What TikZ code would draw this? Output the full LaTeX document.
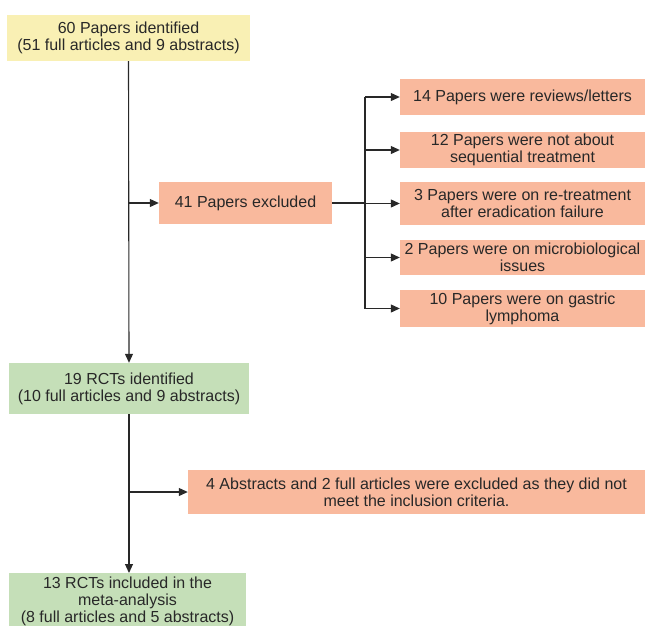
\documentclass[tikz,border=0pt]{standalone}
\usepackage{fontspec}
\setmainfont{Liberation Sans}
\usetikzlibrary{arrows.meta}
\definecolor{boxyellow}{RGB}{249,240,180}
\definecolor{boxsalmon}{RGB}{249,185,157}
\definecolor{boxgreen}{RGB}{197,223,184}
\definecolor{linecol}{RGB}{40,40,40}
\definecolor{txtcol}{RGB}{40,40,40}
\tikzset{
  every node/.style={font=\fontsize{16}{17}\selectfont, text=txtcol, align=center, inner sep=0pt},
  ybox/.style={fill=boxyellow},
  sbox/.style={fill=boxsalmon},
  gbox/.style={fill=boxgreen},
  conn/.style={draw=linecol, line width=1.1pt},
  arr/.style={conn, -{Triangle[length=9pt,width=8pt]}}
}
\begin{document}
\begin{tikzpicture}[x=1pt,y=-1pt]
\useasboundingbox (0,0) rectangle (645,626);
\node[ybox, minimum width=243pt, minimum height=46pt] (id) at (128.5,38) {60 Papers identified\\(51 full articles and 9 abstracts)};
\node[sbox, minimum width=173pt, minimum height=42pt] (ex1) at (245.5,203) {41 Papers excluded};
\node[sbox, minimum width=245pt, minimum height=36pt] (ra) at (522.5,97) {14 Papers were reviews/letters};
\node[sbox, minimum width=245pt, minimum height=36pt] (rb) at (522.5,150) {12 Papers were not about\\sequential treatment};
\node[sbox, minimum width=245pt, minimum height=43pt] (rc) at (522.5,203.5) {3 Papers were on re-treatment\\after eradication failure};
\node[sbox, minimum width=245pt, minimum height=35pt] (rd) at (522.5,257.5) {2 Papers were on microbiological\\issues};
\node[sbox, minimum width=245pt, minimum height=37pt] (re) at (522.5,308.5) {10 Papers were on gastric\\lymphoma};
\node[gbox, minimum width=240pt, minimum height=51pt] (rct) at (129,388.5) {19 RCTs identified\\(10 full articles and 9 abstracts)};
\node[sbox, minimum width=457pt, minimum height=44pt] (ex2) at (416.5,492) {4 Abstracts and 2 full articles were excluded as they did not\\meet the inclusion criteria.};
\fill[boxgreen] (9,573) rectangle (246,626);
\node (inc) at (127.5,601) {13 RCTs included in the\\meta-analysis\\(8 full articles and 5 abstracts)};
\coordinate (incn) at (129,573);
\coordinate (bus) at (365,203);
% main flow
\draw[arr] (id.south) -- (rct.north);
\draw[arr] (id.south |- ex1.west) -- (ex1.west);
\draw[conn] (ex1.east) -- (bus);
\draw[conn] (bus |- ra.west) -- (bus |- re.west);
\draw[arr] (bus |- ra.west) -- (ra.west);
\draw[arr] (bus |- rb.west) -- (rb.west);
\draw[arr] (bus |- rc.west) -- (rc.west);
\draw[arr] (bus |- rd.west) -- (rd.west);
\draw[arr] (bus |- re.west) -- (re.west);
\draw[arr] (rct.south) -- (incn);
\draw[arr] (rct.south |- ex2.west) -- (ex2.west);
\end{tikzpicture}
\end{document}
